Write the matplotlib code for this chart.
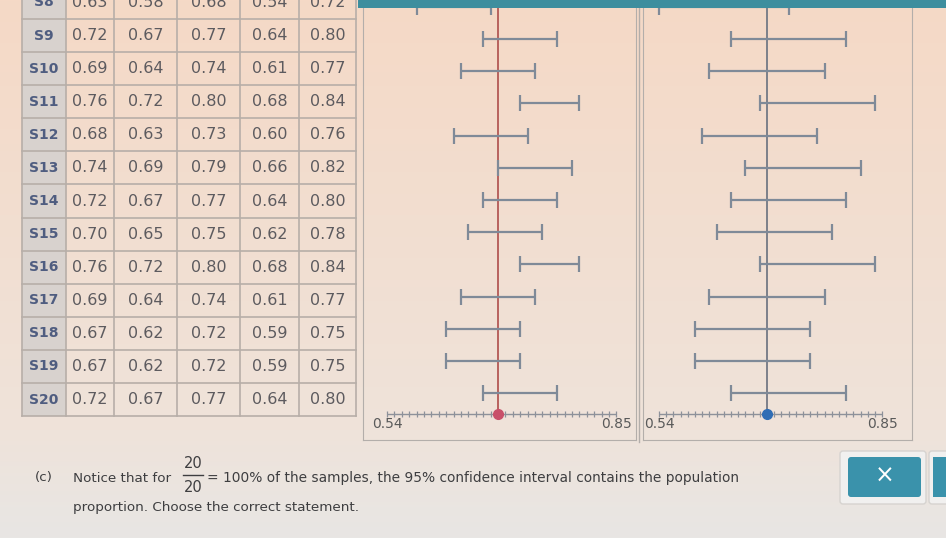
import numpy as np
import matplotlib.pyplot as plt
from matplotlib.patches import Rectangle, FancyBboxPatch

# table rows visible in the screenshot (S8 is cut off at the top)
samples = ["S8", "S9", "S10", "S11", "S12", "S13", "S14",
           "S15", "S16", "S17", "S18", "S19", "S20"]
p_hat = [0.63, 0.72, 0.69, 0.76, 0.68, 0.74, 0.72, 0.70, 0.76, 0.69, 0.67, 0.67, 0.72]
lo90 = [0.58, 0.67, 0.64, 0.72, 0.63, 0.69, 0.67, 0.65, 0.72, 0.64, 0.62, 0.62, 0.67]
hi90 = [0.68, 0.77, 0.74, 0.80, 0.73, 0.79, 0.77, 0.75, 0.80, 0.74, 0.72, 0.72, 0.77]
lo95 = [0.54, 0.64, 0.61, 0.68, 0.60, 0.66, 0.64, 0.62, 0.68, 0.61, 0.59, 0.59, 0.64]
hi95 = [0.72, 0.80, 0.77, 0.84, 0.76, 0.82, 0.80, 0.78, 0.84, 0.77, 0.75, 0.75, 0.80]
p_pop = 0.69
axis_min, axis_max = 0.54, 0.85

W, H = 946, 538
fig = plt.figure(figsize=(W / 100, H / 100), dpi=100)


def box(x0, y0, x1, y1):
    # pixel box (top-left origin) -> figure coords
    return [x0 / W, 1 - y1 / H, (x1 - x0) / W, (y1 - y0) / H]


# background (photo of a screen: peach at the top, greyish at the bottom)
bg = fig.add_axes([0, 0, 1, 1])
bg.set_xlim(0, W)
bg.set_ylim(H, 0)
bg.axis("off")
c_top = np.array([245, 217, 198]) / 255
c_mid = np.array([239, 227, 218]) / 255
c_bot = np.array([232, 230, 228]) / 255
t = np.linspace(0, 1, H)[:, None]
grad = np.where(t < 0.8, c_top + (c_mid - c_top) * (t / 0.8),
                c_mid + (c_bot - c_mid) * ((t - 0.8) / 0.2))
bg.imshow(grad[:, None, :], extent=[0, W, H, 0], aspect="auto", zorder=0)
bg.plot([639, 639], [6, 442], color="#b3aeaa", lw=1, zorder=1)

rows = [int(s[1:]) for s in samples]

# ---- table ----
tab = fig.add_axes(box(0, 0, 360, 440))
tab.axis("off")
tab.set_xlim(0, 360)
tab_top = 9 - 35.5 / 33.1
tab.set_ylim(tab_top + 440 / 33.1, tab_top)
edges = [22, 66, 114, 177, 240, 299, 356]
line_c = "#b7aea8"
for r, s, vals in zip(rows, samples, zip(p_hat, lo90, hi90, lo95, hi95)):
    tab.add_patch(Rectangle((edges[0], r - 0.5), edges[1] - edges[0], 1,
                            facecolor="#d8d2ce", edgecolor="none"))
    tab.text((edges[0] + edges[1]) / 2, r, s, ha="center", va="center",
             fontsize=10, fontweight="bold", color="#4f5d80")
    for k, v in enumerate(vals):
        tab.text((edges[k + 1] + edges[k + 2]) / 2, r, f"{v:.2f}",
                 ha="center", va="center", fontsize=11.5, color="#5d5b5f")
    tab.plot([edges[0], edges[-1]], [r + 0.5, r + 0.5], color=line_c, lw=1.2)
for e in edges:
    tab.plot([e, e], [rows[0] - 0.5, rows[-1] + 0.5], color=line_c, lw=1.2)

# ---- confidence interval panels ----
ci_top = 9 - 39 / 32.2
ci_bottom = ci_top + 440 / 32.2
axis_y = ci_top + 414 / 32.2
label_y = ci_top + 424 / 32.2
ticks = np.arange(54, 86) / 100

panels = [
    (box(363, 0, 636, 440), lo90, hi90, (0.54 - 24 / 740, 0.54 + 249 / 740), "#b8625e", "#c8506a"),
    (box(643, 0, 912, 440), lo95, hi95, (0.54 - 16 / 720, 0.54 + 253 / 720), "#7c808a", "#2f6db5"),
]
for rect, lo, hi, xlim, line_col, dot_col in panels:
    ax = fig.add_axes(rect)
    ax.patch.set_alpha(0)
    ax.set_xlim(*xlim)
    ax.set_ylim(ci_bottom, ci_top)
    ax.set_xticks([])
    ax.set_yticks([])
    for side in ["left", "right", "bottom"]:
        ax.spines[side].set_color("#b3aeaa")
    ax.spines["top"].set_visible(False)
    lo_a, hi_a = np.array(lo), np.array(hi)
    ax.vlines(p_pop, ci_top, axis_y, color=line_col, lw=1.4, zorder=2)
    ax.errorbar((lo_a + hi_a) / 2, rows, xerr=(hi_a - lo_a) / 2, fmt="none",
                ecolor="#7f8a98", elinewidth=1.6, capsize=6, capthick=1.6, zorder=3)
    ax.hlines(axis_y, axis_min, axis_max, color="#8d919a", lw=1)
    ax.plot(ticks, [axis_y] * len(ticks), ls="none", marker="|", ms=5,
            color="#8d919a", mew=0.9)
    ax.plot(p_pop, axis_y, "o", ms=7, color=dot_col, zorder=4)
    ax.text(axis_min, label_y, f"{axis_min:.2f}", ha="center", va="center",
            fontsize=10, color="#5a5a5a")
    ax.text(axis_max, label_y, f"{axis_max:.2f}", ha="center", va="center",
            fontsize=10, color="#5a5a5a")

# teal header strip drawn on top of the panels
top_bar = fig.add_axes(box(358, 0, W, 8))
top_bar.axis("off")
top_bar.add_patch(Rectangle((0, 0), 1, 1, transform=top_bar.transAxes, color="#3d8e9e"))

# ---- question text ----
txt_c = "#3e3e40"
fs = 9.7
bg.text(35, 478, "(c)", ha="left", va="center", fontsize=fs, color=txt_c, zorder=3)
bg.text(73, 478, "Notice that for", ha="left", va="center", fontsize=fs, color=txt_c, zorder=3)
bg.text(193, 463, "20", ha="center", va="center", fontsize=10.5, color=txt_c, zorder=3)
bg.plot([183, 203], [475, 475], color=txt_c, lw=1, zorder=3)
bg.text(193, 488, "20", ha="center", va="center", fontsize=10.5, color=txt_c, zorder=3)
bg.text(207, 478, "= 100% of the samples, the 95% confidence interval contains the population",
        ha="left", va="center", fontsize=9.9, color=txt_c, zorder=3)
bg.text(73, 508, "proportion. Choose the correct statement.", ha="left", va="center",
        fontsize=fs, color=txt_c, zorder=3)

# close button
bg.add_patch(FancyBboxPatch((840, 451), 86, 53, boxstyle="round,pad=0,rounding_size=3",
                            facecolor="#f1f0ef", edgecolor="#d6d3d0", lw=1, zorder=2))
bg.add_patch(FancyBboxPatch((848, 457), 73, 40, boxstyle="round,pad=0,rounding_size=3",
                            facecolor="#3a92ab", edgecolor="none", zorder=3))
bg.text(884.5, 476, "×", ha="center", va="center", fontsize=17, color="white", zorder=4)
bg.add_patch(FancyBboxPatch((929, 451), 30, 53, boxstyle="round,pad=0,rounding_size=3",
                            facecolor="#f1f0ef", edgecolor="#d6d3d0", lw=1, zorder=2))
bg.add_patch(Rectangle((933, 457), 20, 40, facecolor="#3a92ab", edgecolor="none", zorder=3))

fig.savefig("out.png", dpi=100)
